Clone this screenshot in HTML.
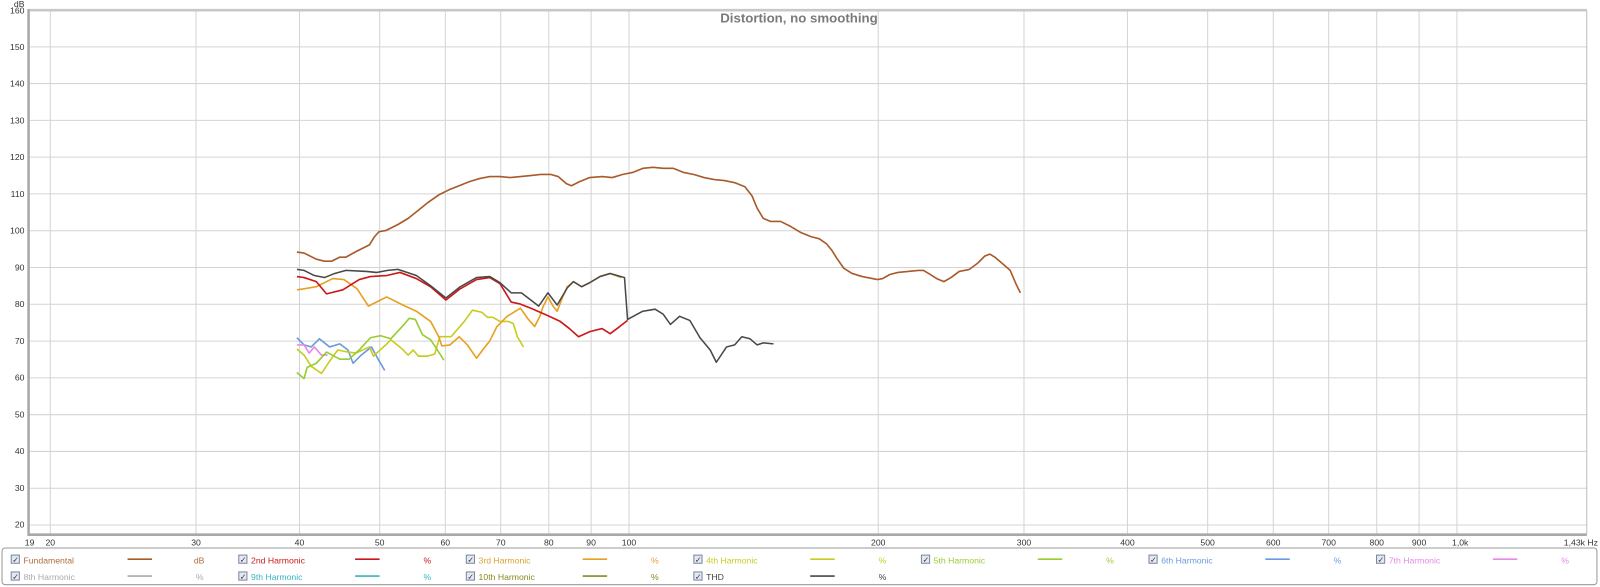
<!DOCTYPE html>
<html><head><meta charset="utf-8"><style>
html,body{margin:0;padding:0;background:#fff;}
svg{display:block;}
text{font-family:"Liberation Sans",sans-serif;}
</style></head><body>
<svg width="1600" height="587" viewBox="0 0 1568 575.26" preserveAspectRatio="none" xmlns="http://www.w3.org/2000/svg">
<rect width="1568" height="576" fill="#fff"/>
<g stroke="#d4d4d4" stroke-width="1">
<line x1="49.3" y1="10" x2="49.3" y2="524"/><line x1="192.1" y1="10" x2="192.1" y2="524"/>
<line x1="293.5" y1="10" x2="293.5" y2="524"/><line x1="372.1" y1="10" x2="372.1" y2="524"/>
<line x1="436.4" y1="10" x2="436.4" y2="524"/><line x1="490.7" y1="10" x2="490.7" y2="524"/>
<line x1="537.8" y1="10" x2="537.8" y2="524"/><line x1="579.3" y1="10" x2="579.3" y2="524"/>
<line x1="616.4" y1="10" x2="616.4" y2="524"/><line x1="860.7" y1="10" x2="860.7" y2="524"/>
<line x1="1003.5" y1="10" x2="1003.5" y2="524"/><line x1="1104.9" y1="10" x2="1104.9" y2="524"/>
<line x1="1183.5" y1="10" x2="1183.5" y2="524"/><line x1="1247.8" y1="10" x2="1247.8" y2="524"/>
<line x1="1302.1" y1="10" x2="1302.1" y2="524"/><line x1="1349.2" y1="10" x2="1349.2" y2="524"/>
<line x1="1390.7" y1="10" x2="1390.7" y2="524"/><line x1="1427.8" y1="10" x2="1427.8" y2="524"/>
<line x1="28" y1="45.9" x2="1555" y2="45.9"/><line x1="28" y1="81.9" x2="1555" y2="81.9"/>
<line x1="28" y1="118" x2="1555" y2="118"/><line x1="28" y1="154" x2="1555" y2="154"/>
<line x1="28" y1="190" x2="1555" y2="190"/><line x1="28" y1="226.1" x2="1555" y2="226.1"/>
<line x1="28" y1="262.2" x2="1555" y2="262.2"/><line x1="28" y1="298.2" x2="1555" y2="298.2"/>
<line x1="28" y1="334.3" x2="1555" y2="334.3"/><line x1="28" y1="370.3" x2="1555" y2="370.3"/>
<line x1="28" y1="406.4" x2="1555" y2="406.4"/><line x1="28" y1="442.4" x2="1555" y2="442.4"/>
<line x1="28" y1="478.5" x2="1555" y2="478.5"/><line x1="28" y1="514.5" x2="1555" y2="514.5"/>
</g>
<line x1="28" y1="10" x2="1555" y2="10" stroke="#c8c8c8" stroke-width="2.5"/>
<line x1="1555" y1="10" x2="1555" y2="524" stroke="#bdbdbd" stroke-width="1"/>
<line x1="28" y1="9" x2="28" y2="525" stroke="#a8a8a8" stroke-width="2.5"/>
<line x1="27" y1="524" x2="1555" y2="524" stroke="#a8a8a8" stroke-width="2.5"/>
<text x="783" y="22" font-size="13" font-weight="bold" fill="#7a7a7a" text-anchor="middle">Distortion, no smoothing</text>
<g font-size="8.5" fill="#333" text-anchor="end">
<text x="24" y="7">dB</text>
<text x="24" y="13">160</text><text x="24" y="49">150</text><text x="24" y="85">140</text><text x="24" y="121">130</text>
<text x="24" y="157">120</text><text x="24" y="193">110</text><text x="24" y="229">100</text><text x="24" y="265">90</text>
<text x="24" y="301">80</text><text x="24" y="337">70</text><text x="24" y="373">60</text><text x="24" y="409">50</text>
<text x="24" y="445">40</text><text x="24" y="481">30</text><text x="24" y="517">20</text>
</g>
<g font-size="8.5" fill="#333" text-anchor="middle">
<text x="29" y="534.5">19</text><text x="49.3" y="534.5">20</text><text x="192.1" y="534.5">30</text><text x="293.5" y="534.5">40</text>
<text x="372.1" y="534.5">50</text><text x="436.4" y="534.5">60</text><text x="490.7" y="534.5">70</text><text x="537.8" y="534.5">80</text>
<text x="579.3" y="534.5">90</text><text x="616.4" y="534.5">100</text><text x="860.7" y="534.5">200</text><text x="1003.5" y="534.5">300</text>
<text x="1104.9" y="534.5">400</text><text x="1183.5" y="534.5">500</text><text x="1247.8" y="534.5">600</text><text x="1302.1" y="534.5">700</text>
<text x="1349.2" y="534.5">800</text><text x="1390.7" y="534.5">900</text><text x="1431" y="534.5">1,0k</text>
<text x="1566" y="534.5" text-anchor="end">1,43k Hz</text>
</g>
<g fill="none" stroke-width="1.6" stroke-linejoin="round">
<polyline stroke="#a85a2a" points="291,247 298,248 310,254 318,256 325,256 333,252 339,252 350,246 362,240 367,232 371.5,227 378,226 390,220 400,214 410,206 420,198 430,191 440,186 450,182 460,178 470,175 480,173 490,173 500,174 510,173 520,172 530,171 540,171 547,173 555,180 560,182 568,178 578,174 590,173 600,174 610,171 620,169 630,165 640,164 650,165 660,165 670,169 680,171 690,174 700,176 710,177 720,179 730,183 737,192 742,204 748,214 755,217 765,217 775,222 785,228 795,232 803,234 810,239 815,245 820,253 827,263 835,268 845,271 855,273 860,274 865,273 872,269 880,267 890,266 900,265 905,265 910,268 918,273 925,276 932,272 940,266 950,264 958,258 965,251 970,249 975,252 982,258 990,265 996,279 1000,287"/>
<polyline stroke="#6a9be0" points="291,331 298,338 305,340 313,332 323,340 333,337 341,343 346,356 354,348 364,340 370,351 377,363"/>
<polyline stroke="#e888e8" points="291,338 298,338 303,346 308,340 315,348 321,348"/>
<polyline stroke="#c8cc22" points="291,342 298,348 305,359 315,366 323,354 331,343 341,345 349,346 362,340 366,349 378,338 383,333 393,341 400,348 405,343 410,349 419,349 426,347 431,330 442,330 455,315 463,304 472,306 478,311 483,311 490,315 498,315 503,317 507,330 513,340"/>
<polyline stroke="#99cc33" points="291,365 298,371 301,360 310,356 320,345 333,352 342,352 353,342 363,331 373,329 383,332 396,318 401,312 407,313 414,328 422,333 428,342 435,353"/>
<polyline stroke="#e8a020" points="291,284 298,283 310,281 326,273 337,274 350,283 361,300 379,291 395,299 408,305 422,315 430,330 433,339 441,338 450,330 458,338 467,351 473,343 480,334 487,320 497,310 510,302 517,312 524,320 529,310 532,301 537,291 542,300 546,305 551,292 556,281 562,276 570,281 578,277 588,271 598,268 609,272"/>
<polyline stroke="#cc1818" points="291,271 298,272 310,276 320,288 336,284 352,274 363,271 379,270 392,267 408,273 422,281 437,294 451,283 467,274 480,272 490,278 501,296 510,298 520,302 536,309 549,315 558,322 567,330 578,325 590,322 598,327 606,321 615,314"/>
<polyline stroke="#484848" stroke-width="1.5" points="291,264 298,265 308,270 318,272 328,268 339,265 359,266 369,267 380,265 390,264 408,270 422,280 437,292 451,281 467,272 480,271 490,277 501,287 511,287 528,300 537,287 546,299 556,282 562,276 570,281 578,277 588,271 598,268 612,272 615,313 630,305 642,303 650,308 657,318 666,310 676,314 686,331 696,343 702,355 712,340 720,338 727,330 735,332 742,338 748,336 758,337"/>
</g>
<rect x="2" y="537" width="1563" height="36" rx="3" fill="#fff" stroke="#999" stroke-width="1"/>
<g font-size="8.5">
<g transform="translate(11,8)"><rect x="0" y="536" width="8" height="8" fill="#e4e8f0" stroke="#7a86a0"/><text x="1" y="543.5" font-size="8" fill="#334">✓</text><text x="12" y="544" fill="#b06a3a">Fundamental</text><line x1="114" y1="540" x2="138" y2="540" stroke="#a85a2a" stroke-width="1.6"/><text x="179" y="544" fill="#b06a3a">dB</text></g>
<g transform="translate(234,8)"><rect x="0" y="536" width="8" height="8" fill="#e4e8f0" stroke="#7a86a0"/><text x="1" y="543.5" font-size="8" fill="#334">✓</text><text x="12" y="544" fill="#cc1818">2nd Harmonic</text><line x1="114" y1="540" x2="138" y2="540" stroke="#cc1818" stroke-width="1.6"/><text x="181" y="544" fill="#cc1818">%</text></g>
<g transform="translate(457,8)"><rect x="0" y="536" width="8" height="8" fill="#e4e8f0" stroke="#7a86a0"/><text x="1" y="543.5" font-size="8" fill="#334">✓</text><text x="12" y="544" fill="#e0a030">3rd Harmonic</text><line x1="114" y1="540" x2="138" y2="540" stroke="#e8a020" stroke-width="1.6"/><text x="181" y="544" fill="#e0a030">%</text></g>
<g transform="translate(680,8)"><rect x="0" y="536" width="8" height="8" fill="#e4e8f0" stroke="#7a86a0"/><text x="1" y="543.5" font-size="8" fill="#334">✓</text><text x="12" y="544" fill="#c8cc22">4th Harmonic</text><line x1="114" y1="540" x2="138" y2="540" stroke="#c8cc22" stroke-width="1.6"/><text x="181" y="544" fill="#c8cc22">%</text></g>
<g transform="translate(903,8)"><rect x="0" y="536" width="8" height="8" fill="#e4e8f0" stroke="#7a86a0"/><text x="1" y="543.5" font-size="8" fill="#334">✓</text><text x="12" y="544" fill="#99cc33">5th Harmonic</text><line x1="114" y1="540" x2="138" y2="540" stroke="#99cc33" stroke-width="1.6"/><text x="181" y="544" fill="#99cc33">%</text></g>
<g transform="translate(1126,8)"><rect x="0" y="536" width="8" height="8" fill="#e4e8f0" stroke="#7a86a0"/><text x="1" y="543.5" font-size="8" fill="#334">✓</text><text x="12" y="544" fill="#6a9be0">6th Harmonic</text><line x1="114" y1="540" x2="138" y2="540" stroke="#6a9be0" stroke-width="1.6"/><text x="181" y="544" fill="#6a9be0">%</text></g>
<g transform="translate(1349,8)"><rect x="0" y="536" width="8" height="8" fill="#e4e8f0" stroke="#7a86a0"/><text x="1" y="543.5" font-size="8" fill="#334">✓</text><text x="12" y="544" fill="#e888e8">7th Harmonic</text><line x1="114" y1="540" x2="138" y2="540" stroke="#e888e8" stroke-width="1.6"/><text x="181" y="544" fill="#e888e8">%</text></g>
<g transform="translate(11,24.5)"><rect x="0" y="536" width="8" height="8" fill="#e4e8f0" stroke="#7a86a0"/><text x="1" y="543.5" font-size="8" fill="#334">✓</text><text x="12" y="544" fill="#aaaaaa">8th Harmonic</text><line x1="114" y1="540" x2="138" y2="540" stroke="#aaaaaa" stroke-width="1.6"/><text x="181" y="544" fill="#aaaaaa">%</text></g>
<g transform="translate(234,24.5)"><rect x="0" y="536" width="8" height="8" fill="#e4e8f0" stroke="#7a86a0"/><text x="1" y="543.5" font-size="8" fill="#334">✓</text><text x="12" y="544" fill="#33b5c0">9th Harmonic</text><line x1="114" y1="540" x2="138" y2="540" stroke="#33b5c0" stroke-width="1.6"/><text x="181" y="544" fill="#33b5c0">%</text></g>
<g transform="translate(457,24.5)"><rect x="0" y="536" width="8" height="8" fill="#e4e8f0" stroke="#7a86a0"/><text x="1" y="543.5" font-size="8" fill="#334">✓</text><text x="12" y="544" fill="#888822">10th Harmonic</text><line x1="114" y1="540" x2="138" y2="540" stroke="#888822" stroke-width="1.6"/><text x="181" y="544" fill="#888822">%</text></g>
<g transform="translate(680,24.5)"><rect x="0" y="536" width="8" height="8" fill="#e4e8f0" stroke="#7a86a0"/><text x="1" y="543.5" font-size="8" fill="#334">✓</text><text x="12" y="544" fill="#444">THD</text><line x1="114" y1="540" x2="138" y2="540" stroke="#484848" stroke-width="1.6"/><text x="181" y="544" fill="#444">%</text></g>
</g>
</svg>
</body></html>
